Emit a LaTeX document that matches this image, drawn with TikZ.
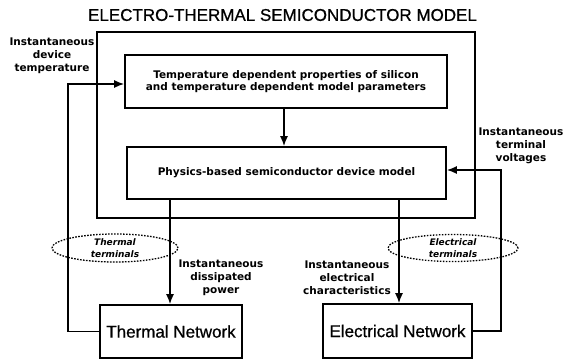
\documentclass[tikz,border=0pt]{standalone}
\usepackage{fontspec}
\setmainfont{Liberation Sans}
\newfontfamily\medfont[FakeBold=0.7]{Liberation Sans}
\newfontfamily\lblfont{DejaVu Sans}
\usetikzlibrary{arrows.meta,shapes.geometric}
\begin{document}
\begin{tikzpicture}[x=1pt,y=-1pt,line width=1.6pt,
  arr/.style={-{Latex[length=10pt,width=8pt]}},
  box/.style={draw,rectangle,inner sep=0pt,align=center},
  boxtxt/.style={font=\lblfont\bfseries\fontsize{10.5}{12}\selectfont},
  nettxt/.style={font=\medfont\fontsize{17}{20}\selectfont},
  lbl/.style={align=center,inner sep=0pt,font=\lblfont\bfseries\fontsize{10.5}{13}\selectfont},
  term/.style={draw,ellipse,line width=1.3pt,dash pattern=on 1.6pt off 1.4pt,inner sep=0pt,align=center,
     font=\lblfont\bfseries\itshape\fontsize{9}{12}\selectfont}]
\useasboundingbox (0,0) rectangle (565,360);
\node[font=\medfont\fontsize{17}{20}\selectfont,inner sep=0pt] (title) at (282.5,15) {ELECTRO-THERMAL SEMICONDUCTOR MODEL};
\node[box,minimum width=378pt,minimum height=186pt] (outer) at (286,125) {};
\node[box,boxtxt,minimum width=322pt,minimum height=53pt] (top) at (286,81.5)
  {Temperature dependent properties of silicon\\and temperature dependent model parameters};
\node[box,boxtxt,minimum width=319pt,minimum height=52pt] (phys) at (286.5,173)
  {Physics-based semiconductor device model};
\node[box,nettxt,minimum width=142pt,minimum height=53pt] (therm) at (171,331.5) {Thermal Network};
\node[box,nettxt,minimum width=149pt,minimum height=54pt] (elec) at (397.5,331) {Electrical Network};
\node[term,minimum width=126pt,minimum height=28pt] (tt) at (115,248) {Thermal\\terminals};
\node[term,minimum width=130pt,minimum height=27pt] (et) at (453,248) {Electrical\\terminals};
\node[lbl] (l1) at (52,56) {Instantaneous\\device\\temperature};
\node[lbl] (l2) at (521,146) {Instantaneous\\terminal\\voltages};
\node[lbl] (l3) at (221,278) {Instantaneous\\dissipated\\power};
\node[lbl] (l4) at (347,278) {Instantaneous\\electrical\\characteristics};
\coordinate (lp) at (68,84);
\coordinate (rp) at (501,170);
\coordinate (tx) at (170,0);
\coordinate (ex) at (399,0);
\draw[arr] ([xshift=-2pt]top.south) -- ([xshift=-2pt]top.south |- phys.north);
\draw[arr] (phys.south -| tx) -- (therm.north -| tx);
\draw[arr] (phys.south -| ex) -- (elec.north -| ex);
\draw[arr] (therm.west) -| (lp) -- (lp -| top.west);
\draw[arr] (elec.east) -| (rp) -- (rp -| phys.east);
\end{tikzpicture}
\end{document}
